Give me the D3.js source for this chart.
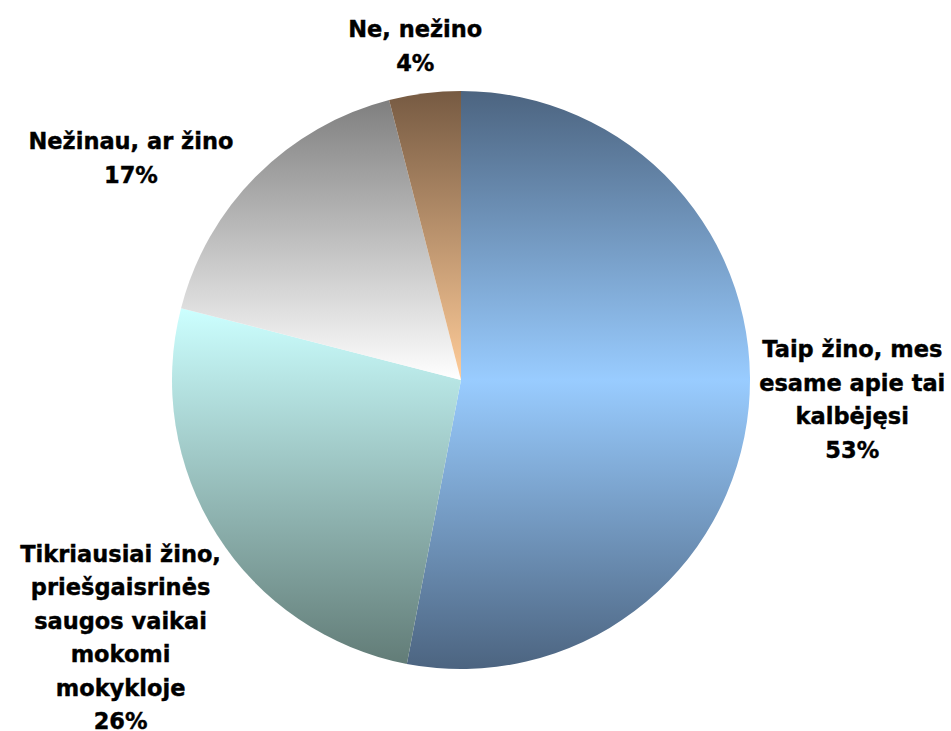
<!DOCTYPE html>
<html>
<head>
<meta charset="utf-8">
<script src="https://cdn.jsdelivr.net/npm/d3@7"></script>
<style>
  body { margin: 0; background: #fff; }
  text { font-family: "DejaVu Sans", Verdana, sans-serif; font-weight: bold; }
</style>
</head>
<body>
<svg id="pie" width="951" height="731"></svg>
<script>
// chart data
var categories = [
  ["Taip žino, mes", "esame apie tai", "kalbėjęsi"],
  ["Tikriausiai žino,", "priešgaisrinės", "saugos vaikai", "mokomi", "mokykloje"],
  ["Nežinau, ar žino"],
  ["Ne, nežino"]
];
var values = [53, 26, 17, 4];
var pctLabels = ["53%", "26%", "17%", "4%"];

// gradient stops per slice (top -> bottom)
var fills = [
  ["#4c6480", "#99ccff", "#4c6480"],
  ["#ccffff", "#627c77"],
  ["#7f7f7f", "#ffffff"],
  ["#765a42", "#ffcc99"]
];
// label nudges from the label arc centroid
var nudges = [[4, -17], [-12, 49], [-55, 53], [3, 52]];

var svg = d3.select("#pie"),
    cx = 461, cy = 380, r = 289,
    lh = 33.5;

var defs = svg.append("defs");
fills.forEach(function(stops, i) {
  var grad = defs.append("linearGradient")
      .attr("id", "g" + i)
      .attr("x1", 0).attr("y1", 0).attr("x2", 0).attr("y2", 1);
  stops.forEach(function(c, j) {
    grad.append("stop")
        .attr("offset", j / (stops.length - 1))
        .attr("stop-color", c);
  });
});

var pie = d3.pie().sort(null).value(function(d) { return d; });
var arc = d3.arc().innerRadius(0).outerRadius(r);
var labelArc = d3.arc().innerRadius(r + 100).outerRadius(r + 100);

var g = svg.append("g")
    .attr("transform", "translate(" + cx + "," + cy + ")");

var arcs = pie(values);

g.selectAll(".slice")
    .data(arcs)
  .enter().append("path")
    .attr("class", "slice")
    .attr("d", arc)
    .attr("fill", function(d, i) { return "url(#g" + i + ")"; });

var labels = g.selectAll(".lbl")
    .data(arcs)
  .enter().append("text")
    .attr("class", "lbl")
    .attr("text-anchor", "middle")
    .attr("font-size", "22.5px")
    .attr("fill", "#000")
    .attr("stroke", "#000")
    .attr("stroke-width", 0.4);

labels.each(function(d, i) {
  var lines = categories[i].concat([pctLabels[i]]);
  var c = labelArc.centroid(d);
  var x = c[0] + nudges[i][0],
      y = c[1] + nudges[i][1];
  var y0 = y - (lines.length - 1) * lh / 2 + 8;
  var t = d3.select(this);
  lines.forEach(function(s, k) {
    t.append("tspan")
        .attr("x", x)
        .attr("y", y0 + k * lh)
        .text(s);
  });
});
</script>
</body>
</html>
